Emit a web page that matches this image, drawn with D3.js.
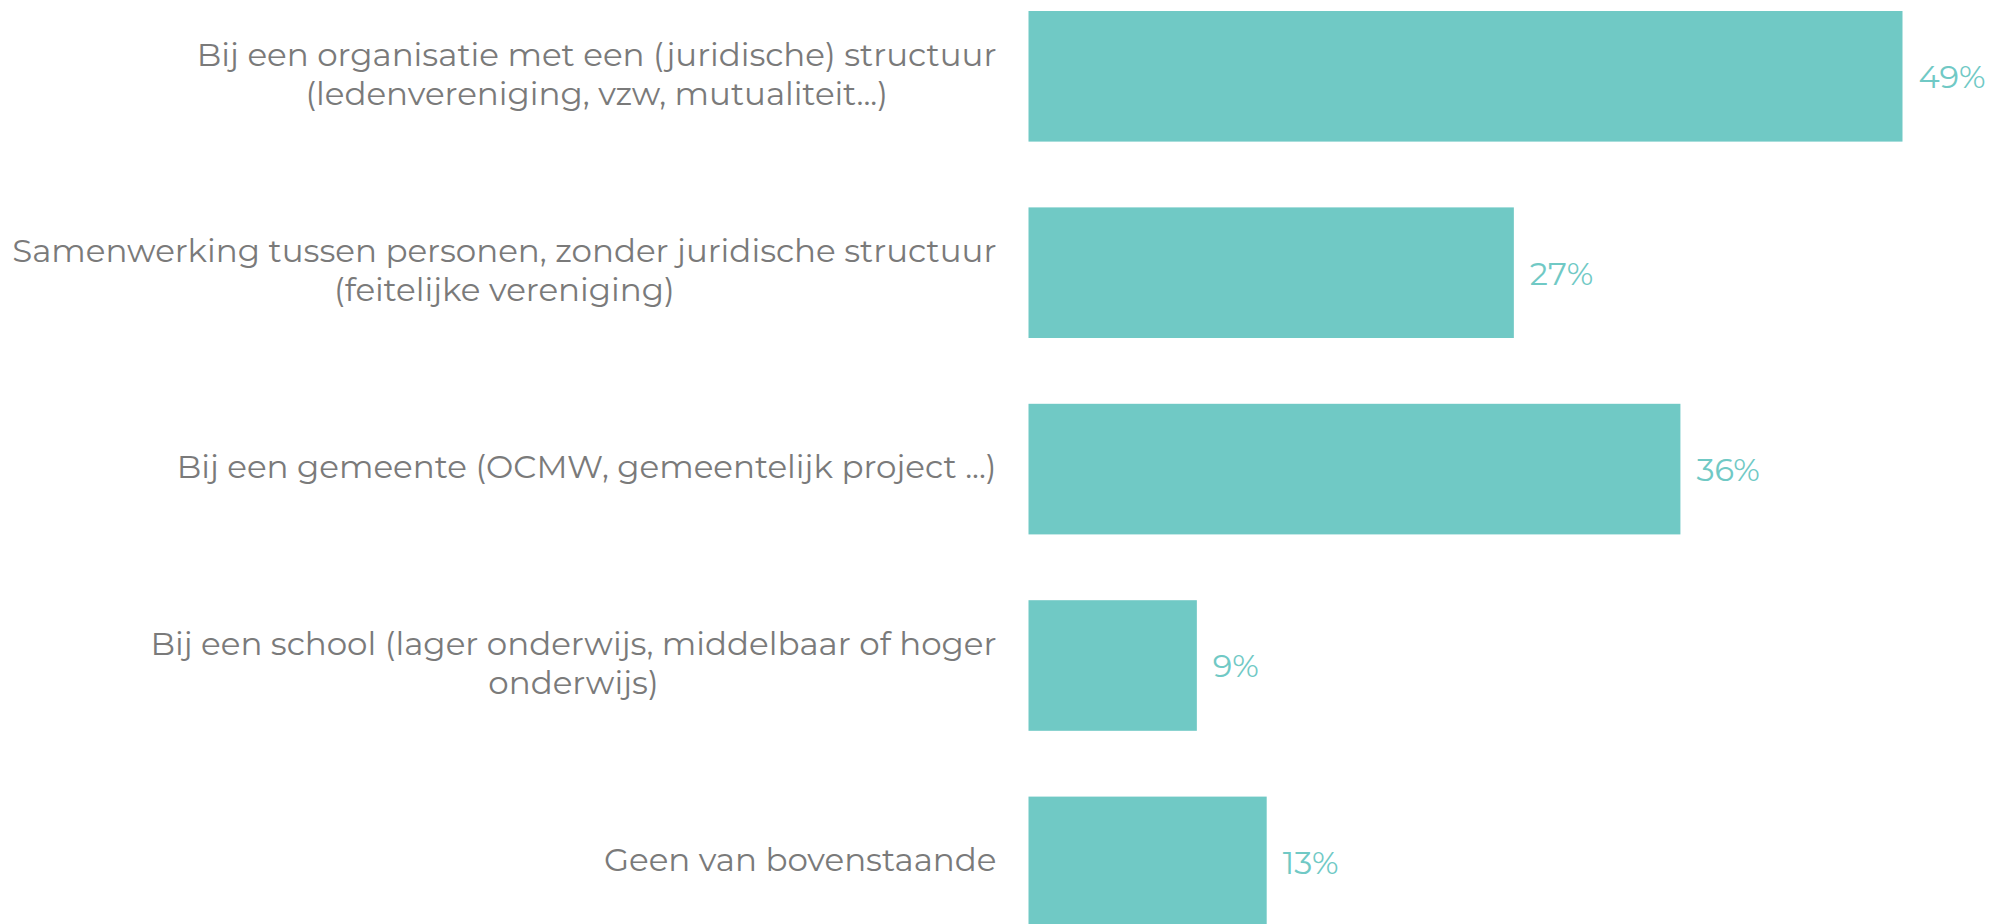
<!DOCTYPE html>
<html>
<head>
<meta charset="utf-8">
<script src="https://cdn.jsdelivr.net/npm/d3@7"></script>
<style>
  body { margin: 0; background: #fff; }
  text { font-family: Montserrat, "DejaVu Sans", sans-serif; }
</style>
</head>
<body>
<script>
// category labels, already broken into lines as in the original
let categories = [
    ["Bij een organisatie met een (juridische) structuur", "(ledenvereniging, vzw, mutualiteit...)"],
    ["Samenwerking tussen personen, zonder juridische structuur", "(feitelijke vereniging)"],
    ["Bij een gemeente (OCMW, gemeentelijk project ...)"],
    ["Bij een school (lager onderwijs, middelbaar of hoger", "onderwijs)"],
    ["Geen van bovenstaande"]
];
let shares = [0.488, 0.271, 0.364, 0.094, 0.133];

let width = 1991, height = 924;
let barColor = '#70c9c5';
let labelRight = 996.5;
let x0 = 1028.5;

let svg = d3.select('body').append('svg')
    .attr('width', width)
    .attr('height', height);

let data = categories.map(function (c, i) {
    return {lines: c, key: i, value: shares[i]};
});

let x = d3.scaleLinear().domain([0, 0.488]).range([x0, 1902.5]);
let y = d3.scaleBand()
    .domain(data.map(function (d) { return d.key; }))
    .range([11, 11 + 196.4 * (5 - 0.335)])
    .paddingInner(0.335)
    .paddingOuter(0);

let fmt = d3.format('.0%');

svg.selectAll('rect.bar')
    .data(data)
    .enter()
    .append('rect')
    .attr('class', 'bar')
    .attr('x', x(0))
    .attr('y', function (d) { return y(d.key); })
    .attr('width', function (d) { return x(d.value) - x(0); })
    .attr('height', y.bandwidth())
    .attr('fill', barColor);

svg.selectAll('text.value')
    .data(data)
    .enter()
    .append('text')
    .attr('class', 'value')
    .attr('x', function (d) { return x(d.value) + 16; })
    .attr('y', function (d) { return y(d.key) + y.bandwidth() / 2; })
    .attr('dy', '0.37em')
    .attr('fill', barColor)
    .style('font-size', '32px')
    .text(function (d) { return fmt(d.value); });

let lineHeight = 39;
let labels = svg.selectAll('g.label')
    .data(data)
    .enter()
    .append('g')
    .attr('class', 'label');

labels.each(function (d) {
    let g = d3.select(this);
    let cy = y(d.key) + y.bandwidth() / 2;
    let n = d.lines.length;
    let texts = g.selectAll('text')
        .data(d.lines)
        .enter()
        .append('text')
        .attr('fill', '#7a7a7a')
        .style('font-size', '32.5px')
        .attr('text-anchor', 'middle')
        .attr('y', function (l, i) { return cy + (i - (n - 1) / 2) * lineHeight; })
        .attr('dy', '0.28em')
        .text(function (l) { return l; });
    // lines are centred on each other, the block is right aligned
    let maxW = d3.max(texts.nodes(), function (t) { return t.getComputedTextLength(); });
    texts.attr('x', labelRight - maxW / 2);
});
</script>
</body>
</html>
